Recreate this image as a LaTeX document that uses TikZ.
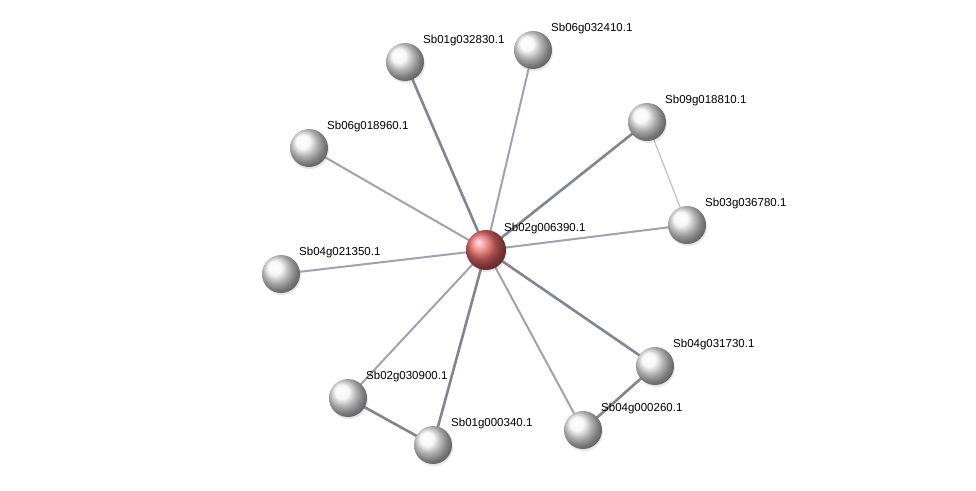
\documentclass[tikz,border=0pt]{standalone}
\usepackage{fontspec}
\setmainfont{Liberation Sans}
\usetikzlibrary{backgrounds,shadows,positioning}
\definecolor{edgegray}{RGB}{160,160,182}
\definecolor{edgedark}{RGB}{130,130,152}
\definecolor{edgelight}{RGB}{190,190,205}
\definecolor{queryred}{RGB}{235,105,105}

\begin{document}
\begin{tikzpicture}[
  x=1pt, y=-1pt,
  prot/.style={circle, minimum size=38pt, inner sep=0pt, ball color=gray!8,
               drop shadow={shadow xshift=1pt, shadow yshift=-2pt, opacity=0.2}},
  query/.style={prot, minimum size=40pt, ball color=queryred},
  lbl/.style={anchor=west, xshift=18pt, yshift=21pt, font=\fontsize{11.5}{13}\selectfont, inner sep=0pt},
  edge/.style={line width=2pt, draw=edgegray},
  strong/.style={line width=2.6pt, draw=edgedark},
  weak/.style={line width=1.2pt, draw=edgelight}
]
\useasboundingbox (0,0) rectangle (976,490);

\node[query] (q)    at (486,250) {};
\node[prot]  (p1)   at (405, 62) {};
\node[prot]  (p2)   at (533, 50) {};
\node[prot]  (p3)   at (647,122) {};
\node[prot]  (p4)   at (309,148) {};
\node[prot]  (p5)   at (687,225) {};
\node[prot]  (p6)   at (281,274) {};
\node[prot]  (p7)   at (655,366) {};
\node[prot]  (p8)   at (348,398) {};
\node[prot]  (p9)   at (583,430) {};
\node[prot]  (p10)  at (433,445) {};

\node[lbl] (lq)  at (q)   {Sb02g006390.1};
\node[lbl] (l1)  at (p1)  {Sb01g032830.1};
\node[lbl] (l2)  at (p2)  {Sb06g032410.1};
\node[lbl] (l3)  at (p3)  {Sb09g018810.1};
\node[lbl] (l4)  at (p4)  {Sb06g018960.1};
\node[lbl] (l5)  at (p5)  {Sb03g036780.1};
\node[lbl] (l6)  at (p6)  {Sb04g021350.1};
\node[lbl] (l7)  at (p7)  {Sb04g031730.1};
\node[lbl] (l8)  at (p8)  {Sb02g030900.1};
\node[lbl] (l9)  at (p9)  {Sb04g000260.1};
\node[lbl] (l10) at (p10) {Sb01g000340.1};

\begin{scope}[on background layer]
\draw[strong] (q.center) -- (p1.center);
\draw[edge]   (q.center) -- (p2.center);
\draw[strong] (q.center) -- (p3.center);
\draw[edge]   (q.center) -- (p4.center);
\draw[edge]   (q.center) -- (p5.center);
\draw[edge]   (q.center) -- (p6.center);
\draw[strong] (q.center) -- (p7.center);
\draw[edge]   (q.center) -- (p8.center);
\draw[edge]   (q.center) -- (p9.center);
\draw[strong] (q.center) -- (p10.center);

\draw[weak]   (p3.center) -- (p5.center);
\draw[strong] (p7.center) -- (p9.center);
\draw[strong] (p8.center) -- (p10.center);
\end{scope}
\end{tikzpicture}
\end{document}
